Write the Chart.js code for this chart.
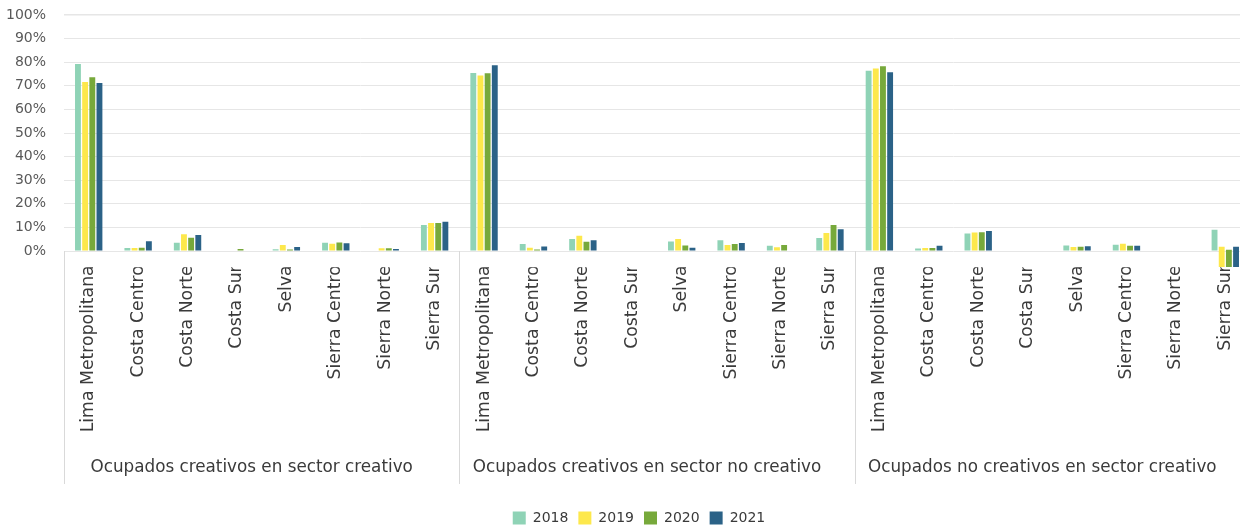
<!DOCTYPE html>
<html><head><meta charset="utf-8">
<script src="https://cdn.jsdelivr.net/npm/chart.js@4.4.1/dist/chart.umd.min.js"></script>
<style>
html,body{margin:0;padding:0;background:#fff;overflow:hidden;width:1240px;height:526px}
#wrap{width:1250px;height:526px}
</style></head>
<body><div id="wrap"><canvas id="c" width="1250" height="526"></canvas></div>
<script>
const groups = ['Ocupados creativos en sector creativo', 'Ocupados creativos en sector no creativo', 'Ocupados no creativos en sector creativo'];
const regions = ['Lima Metropolitana', 'Costa Centro', 'Costa Norte', 'Costa Sur', 'Selva', 'Sierra Centro', 'Sierra Norte', 'Sierra Sur'];
const years = ['2018', '2019', '2020', '2021'];
const yTickValues = [0, 10, 20, 30, 40, 50, 60, 70, 80, 90, 100];
const colors = ['#8fd3b6', '#fde84c', '#77a93b', '#2b6287'];

// values in %, order: group 1 (8 regions), group 2, group 3
const v2018 = [79.2, 1.3, 3.5, 0, 0.8, 3.5, 0, 11.0,   75.4, 3.0, 5.1, 0, 4.0, 4.6, 2.2, 5.5,   76.4, 1.1, 7.4, 0, 2.3, 2.7, 0, 9.0];
const v2019 = [71.6, 1.3, 7.1, 0, 2.6, 3.1, 1.2, 11.9,  74.4, 1.4, 6.5, 0, 5.1, 2.6, 1.6, 7.6,   77.3, 1.3, 7.8, 0, 1.7, 3.1, 0, [-6.8, 1.8]];
const v2020 = [73.6, 1.4, 5.6, 0.9, 0.6, 3.6, 1.2, 11.9, 75.3, 0.6, 3.9, 0, 2.3, 3.0, 2.6, 11.0,  78.3, 1.3, 7.9, 0, 1.8, 2.2, 0, [-6.8, 0.5]];
const v2021 = [71.2, 4.1, 6.8, 0, 1.7, 3.3, 0.9, 12.4,  78.7, 1.9, 4.6, 0, 1.4, 3.4, 0, 9.2,    75.7, 2.2, 8.5, 0, 2.0, 2.2, 0, [-6.8, 1.8]];
const series = [v2018, v2019, v2020, v2021];

const labels = [];
groups.forEach(() => regions.forEach(r => labels.push(r)));

const FONT = '"DejaVu Sans", sans-serif';

const groupPlugin = {
  id: 'groupAxis',
  afterLayout(chart) {
    const lg = chart.legend;
    if (lg) { lg.left += 14; lg.right += 14; lg.top += 9; lg.bottom += 9; }
  },
  afterDraw(chart) {
    const {ctx, chartArea, scales: {x, y}} = chart;
    const y0 = y.getPixelForValue(0);
    const n = regions.length;
    ctx.save();
    ctx.strokeStyle = '#d9d9d9';
    ctx.lineWidth = 1;
    for (let g = 0; g <= groups.length; g++) {
      let px;
      if (g === 0) px = chartArea.left;
      else if (g === groups.length) px = chartArea.right;
      else px = (x.getPixelForValue(g * n - 1) + x.getPixelForValue(g * n)) / 2;
      px = Math.round(px) + 0.5;
      ctx.beginPath(); ctx.moveTo(px, y0); ctx.lineTo(px, 484); ctx.stroke();
    }
    ctx.fillStyle = '#3a3a3a';
    ctx.font = '16.8px ' + FONT;
    ctx.textAlign = 'center';
    ctx.textBaseline = 'middle';
    groups.forEach((name, g) => {
      const cx = (x.getPixelForValue(g * n) + x.getPixelForValue(g * n + n - 1)) / 2 - 10;
      ctx.fillText(name, cx, 468);
    });
    ctx.restore();
  }
};

new Chart(document.getElementById('c'), {
  type: 'bar',
  data: {
    labels: labels,
    datasets: years.map((yr, i) => ({
      label: yr,
      data: series[i],
      backgroundColor: colors[i],
      borderWidth: 0,
      categoryPercentage: 0.58,
      barPercentage: 0.82
    }))
  },
  options: {
    responsive: false,
    animation: false,
    devicePixelRatio: 1,
    layout: {padding: {top: 15, left: 0, right: 0, bottom: 0}},
    plugins: {
      legend: {
        position: 'bottom',
        labels: {boxWidth: 13, boxHeight: 13, padding: 10, color: '#3a3a3a', font: {family: FONT, size: 14}}
      },
      tooltip: {enabled: false}
    },
    scales: {
      x: {
        type: 'category',
        grid: {display: false},
        border: {display: false},
        ticks: {autoSkip: false, minRotation: 90, maxRotation: 90, padding: -10, color: '#3a3a3a', font: {family: FONT, size: 17.3}},
        afterFit: s => { s.height = 224.7; }
      },
      y: {
        min: -6.9,
        max: 100,
        border: {display: false},
        grid: {color: '#e6e6e6', drawTicks: false, lineWidth: c => (c.tick && c.tick.value === 100 ? 1.5 : 1)},
        afterBuildTicks: s => { s.ticks = yTickValues.map(v => ({value: v})); },
        ticks: {padding: 18, color: '#595959', font: {family: FONT, size: 14}, callback: v => v + '%'},
        afterFit: s => { s.width = 64; s.paddingTop = 0; s.paddingBottom = 0; }
      }
    }
  },
  plugins: [groupPlugin]
});
</script>
</body></html>
